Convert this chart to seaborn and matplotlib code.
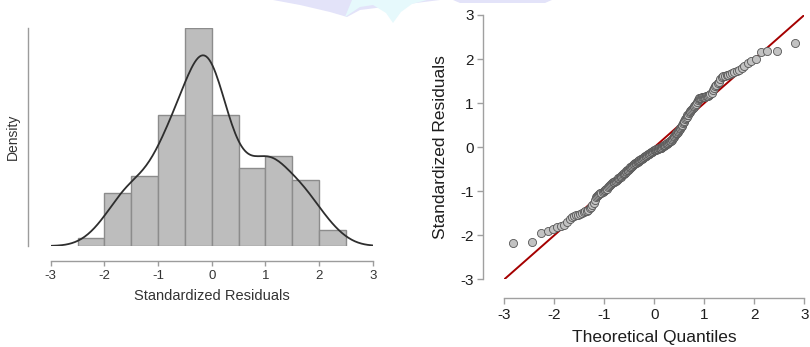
import numpy as np
import pandas as pd
import matplotlib
matplotlib.use("Agg")
import matplotlib.pyplot as plt
from matplotlib.patches import Polygon
import seaborn as sns
from statistics import NormalDist

# Sorted standardized residuals (n = 210)
residuals = [
    -2.17, -2.15, -1.96, -1.91, -1.85, -1.81, -1.79, -1.77, -1.70, -1.63,
    -1.58, -1.56, -1.55, -1.53, -1.51, -1.49, -1.47, -1.46, -1.44, -1.42,
    -1.39, -1.35, -1.31, -1.26, -1.19, -1.14, -1.11, -1.09, -1.07, -1.05,
    -1.03, -1.01, -0.99, -0.98, -0.97, -0.96, -0.94, -0.91, -0.88, -0.85,
    -0.83, -0.81, -0.80, -0.79, -0.78, -0.77, -0.76, -0.74, -0.73, -0.71,
    -0.70, -0.68, -0.67, -0.65, -0.64, -0.62, -0.61, -0.59, -0.58, -0.56,
    -0.55, -0.53, -0.52, -0.51, -0.49, -0.47, -0.46, -0.44, -0.43, -0.42,
    -0.40, -0.39, -0.38, -0.37, -0.36, -0.35, -0.34, -0.33, -0.32, -0.31,
    -0.30, -0.29, -0.28, -0.27, -0.26, -0.25, -0.24, -0.23, -0.22, -0.21,
    -0.20, -0.19, -0.18, -0.17, -0.16, -0.16, -0.15, -0.14, -0.13, -0.12,
    -0.11, -0.10, -0.09, -0.08, -0.07, -0.07, -0.06, -0.06, -0.05, -0.05,
    -0.04, -0.04, -0.03, -0.03, -0.02, -0.02, -0.01, 0.00, 0.01, 0.02,
    0.03, 0.04, 0.05, 0.06, 0.07, 0.08, 0.09, 0.10, 0.11, 0.12,
    0.13, 0.14, 0.15, 0.17, 0.19, 0.21, 0.23, 0.25, 0.27, 0.29,
    0.31, 0.33, 0.35, 0.37, 0.39, 0.41, 0.44, 0.46, 0.48, 0.51,
    0.54, 0.57, 0.60, 0.63, 0.66, 0.69, 0.72, 0.74, 0.77, 0.80,
    0.82, 0.85, 0.87, 0.89, 0.91, 0.94, 0.96, 0.98, 1.02, 1.06,
    1.10, 1.11, 1.12, 1.12, 1.13, 1.13, 1.14, 1.14, 1.15, 1.16,
    1.17, 1.18, 1.20, 1.24, 1.29, 1.34, 1.38, 1.42, 1.45, 1.48,
    1.55, 1.59, 1.61, 1.62, 1.63, 1.64, 1.66, 1.69, 1.71, 1.73,
    1.76, 1.80, 1.85, 1.92, 1.96, 1.99, 2.15, 2.18, 2.19, 2.36,
]
bin_edges = [-2.5, -2.0, -1.5, -1.0, -0.5, 0.0, 0.5, 1.0, 1.5, 2.0, 2.5]
x_ticks = [-3, -2, -1, 0, 1, 2, 3]
qq_ticks = [-3, -2, -1, 0, 1, 2, 3]

n = len(residuals)
theoretical = [NormalDist().inv_cdf((i - 0.5) / n) for i in range(1, n + 1)]
df = pd.DataFrame({"theoretical": theoretical, "residual": residuals})

sns.set_theme(style="white")
plt.rcParams["font.family"] = ["Liberation Sans", "DejaVu Sans"]
plt.rcParams["axes.unicode_minus"] = False

W, H = 810, 347
fig = plt.figure(figsize=(W / 100, H / 100), dpi=100)

# faint watermark at the top
fig.patches.append(Polygon(
    [(273 / W, 1), (300 / W, 1 - 5 / H), (330 / W, 1 - 12 / H), (347 / W, 1 - 17 / H),
     (360 / W, 1 - 10 / H), (440 / W, 1)],
    closed=True, transform=fig.transFigure, facecolor="#e3e3f9", edgecolor="none", zorder=0))
fig.patches.append(Polygon(
    [(453 / W, 1), (460 / W, 1 - 3 / H), (545 / W, 1 - 3 / H), (552 / W, 1)],
    closed=True, transform=fig.transFigure, facecolor="#e3e3f9", edgecolor="none", zorder=0))
fig.patches.append(Polygon(
    [(352 / W, 1), (345 / W, 1 - 17 / H), (360 / W, 1 - 7 / H), (373 / W, 1 - 5 / H),
     (386 / W, 1 - 13 / H), (393 / W, 1 - 23 / H), (401 / W, 1 - 12 / H),
     (412 / W, 1 - 4 / H), (427 / W, 1)],
    closed=True, transform=fig.transFigure, facecolor="#e6f9fc", edgecolor="none", zorder=0))

# ---------------- left: histogram + density ----------------
ax1 = fig.add_axes([50.7 / W, 101 / H, 322 / W, 217.7 / H])
sns.histplot(data=df, x="residual", bins=bin_edges, stat="density",
             color="#bdbdbd", edgecolor="#8c8c8c", linewidth=1.0, alpha=1.0, ax=ax1)
sns.kdeplot(data=df, x="residual", bw_adjust=0.9, clip=(-3, 3),
            color="#2e2e2e", linewidth=1.3, ax=ax1)
ax1.set_xlim(-3, 3)
ax1.set_ylim(0, max(p.get_height() for p in ax1.patches))
ax1.set_xticks(x_ticks)
ax1.set_xticklabels([str(t) for t in x_ticks])
ax1.set_yticks([])
for s in ("top", "right"):
    ax1.spines[s].set_visible(False)
ax1.spines["left"].set_position(("outward", 16))
ax1.spines["bottom"].set_position(("outward", 10.5))
ax1.spines["bottom"].set_bounds(-3, 3)
for s in ("left", "bottom"):
    ax1.spines[s].set_color("#9c9c9c")
    ax1.spines[s].set_linewidth(1.0)
ax1.tick_params(axis="x", bottom=True, length=3.6, width=1, color="#9c9c9c",
                labelsize=9.5, labelcolor="#333333", pad=3)
ax1.set_xlabel("Standardized Residuals", fontsize=10.5, color="#333333", labelpad=5)
ax1.set_ylabel("Density", fontsize=10, color="#333333", labelpad=6)
ax1.patch.set_alpha(0)

# ---------------- right: Q-Q plot ----------------
ax2 = fig.add_axes([504.33 / W, 67.7 / H, 300 / W, 264.3 / H])
ax2.axline((0, 0), slope=1, color="#a50000", linewidth=1.4, zorder=2)
sns.scatterplot(data=df, x="theoretical", y="residual", s=34, color="#c2c2c2",
                edgecolor="#555555", linewidth=0.6, ax=ax2, zorder=3, clip_on=False)
ax2.set_xlim(-3, 3)
ax2.set_ylim(-3, 3)
ax2.set_xticks(x_ticks)
ax2.set_yticks(qq_ticks)
ax2.set_xticklabels([str(t) for t in x_ticks])
ax2.set_yticklabels([str(t) for t in qq_ticks])
for s in ("top", "right"):
    ax2.spines[s].set_visible(False)
ax2.spines["left"].set_position(("outward", 15))
ax2.spines["bottom"].set_position(("outward", 13.4))
for s in ("left", "bottom"):
    ax2.spines[s].set_color("#a0a0a0")
    ax2.spines[s].set_linewidth(1.0)
ax2.tick_params(axis="both", bottom=True, left=True, length=4, width=1, color="#a0a0a0",
                labelsize=11, labelcolor="#1e1e1e", pad=3)
ax2.set_xlabel("Theoretical Quantiles", fontsize=12.5, color="#1e1e1e", labelpad=6)
ax2.set_ylabel("Standardized Residuals", fontsize=12.5, color="#1e1e1e", labelpad=9)
ax2.patch.set_alpha(0)

fig.savefig("out.png", dpi=100)
